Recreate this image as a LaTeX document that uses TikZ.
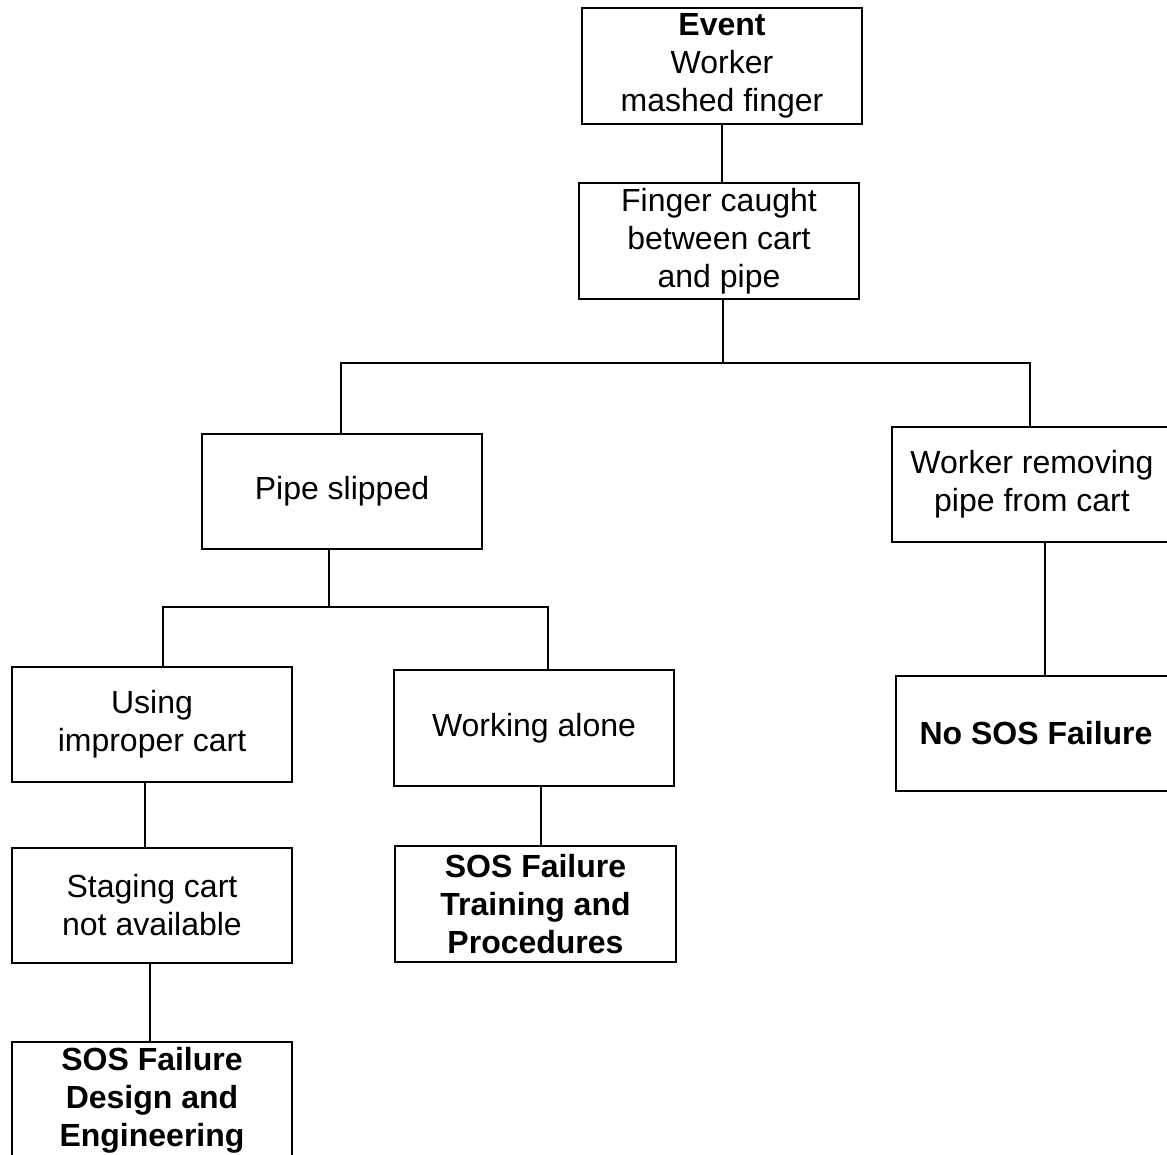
\documentclass[tikz,border=0pt]{standalone}
\usepackage{fontspec}
\setmainfont{Liberation Sans}
\begin{document}
\begin{tikzpicture}[x=1pt,y=-1pt,
  box/.style={draw=black, line width=2.6pt, rectangle, inner sep=0pt, minimum width=280, minimum height=116, align=center, font=\fontsize{32}{38}\selectfont},
  conn/.style={draw=black, line width=2.2pt}]
\useasboundingbox (0,0) rectangle (1167,1155);
\fill[white] (0,0) rectangle (1167,1155);
\node[box] (event) at (722,66) {\textbf{Event}\\Worker\\mashed finger};
\node[box] (finger) at (719,241) {Finger caught\\between cart\\and pipe};
\node[box, minimum height=115] (pipe) at (342,491.5) {Pipe slipped};
\node[box, minimum height=115] (worker) at (1032,484.5) {Worker removing\\pipe from cart};
\node[box, minimum height=115] (nosos) at (1036,733.5) {\textbf{No SOS Failure}};
\node[box, minimum height=115] (using) at (152,724.5) {Using\\improper cart};
\node[box] (working) at (534,728) {Working alone};
\node[box, minimum height=115] (staging) at (152,905.5) {Staging cart\\not available};
\node[box, minimum width=281] (sostrain) at (535.5,904) {\textbf{SOS Failure}\\\textbf{Training and}\\\textbf{Procedures}};
\node[box] (sosdesign) at (152,1100) {\textbf{SOS Failure}\\\textbf{Design and}\\\textbf{Engineering}};
\coordinate (j1) at (723,363);
\coordinate (j2) at (329,607);
\draw[conn] (event.south) -- (event.south |- finger.north);
\draw[conn] (finger.south -| j1) -- (j1);
\draw[conn] ([xshift=-1]pipe.north) |- (j1) -| ([xshift=-2]worker.north);
\draw[conn] (pipe.south -| j2) -- (j2);
\draw[conn] ([xshift=11]using.north) |- (j2) -| ([xshift=14]working.north);
\draw[conn] ([xshift=-7]using.south) -- ([xshift=-7]staging.north);
\draw[conn] ([xshift=-2]staging.south) -- ([xshift=-2]sosdesign.north);
\draw[conn] ([xshift=7]working.south) -- ([xshift=7]working.south |- sostrain.north);
\draw[conn] ([xshift=13]worker.south) -- ([xshift=13]worker.south |- nosos.north);
\end{tikzpicture}
\end{document}
